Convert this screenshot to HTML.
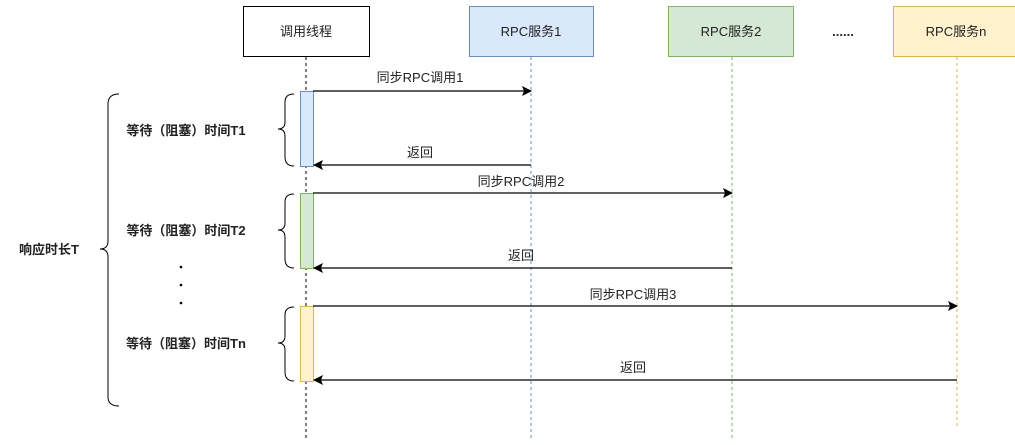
<!DOCTYPE html>
<html><head><meta charset="utf-8"><style>
html,body{margin:0;padding:0;background:#fff;}
text{font-family:"Liberation Sans","Noto Sans CJK SC",sans-serif;font-size:13px;fill:#222;}
.b{font-weight:bold;}
</style></head><body>
<svg width="1015" height="440" viewBox="0 0 1015 440" xmlns="http://www.w3.org/2000/svg">
<defs>
<marker id="ar" markerWidth="10" markerHeight="10" refX="9" refY="5" orient="auto" markerUnits="userSpaceOnUse">
<path d="M0,0 L10,5 L0,10 L2,5 Z" fill="#000"/></marker>
</defs>
<!-- lifelines -->
<line x1="306" y1="57" x2="306" y2="440" stroke="#000" stroke-dasharray="3,3"/>
<line x1="531" y1="57" x2="531" y2="440" stroke="#6c8ebf" stroke-dasharray="3,3"/>
<line x1="732" y1="57" x2="732" y2="440" stroke="#82b366" stroke-dasharray="3,3"/>
<line x1="957" y1="57" x2="957" y2="428" stroke="#d6b656" stroke-dasharray="3,3"/>
<!-- boxes -->
<rect x="243.5" y="6.5" width="126" height="50" fill="#fff" stroke="#000"/>
<text x="306" y="36" text-anchor="middle">调用线程</text>
<rect x="469.5" y="6.5" width="124" height="50" fill="#dae8fc" stroke="#6c8ebf"/>
<text x="531" y="36" text-anchor="middle">RPC服务1</text>
<rect x="668.5" y="6.5" width="125" height="50" fill="#d5e8d4" stroke="#82b366"/>
<text x="731" y="36" text-anchor="middle">RPC服务2</text>
<rect x="893.5" y="6.5" width="125" height="50" fill="#fff2cc" stroke="#d6b656"/>
<text x="956" y="36" text-anchor="middle">RPC服务n</text>
<text x="843" y="36" text-anchor="middle" class="b">......</text>
<!-- activations -->
<rect x="300.5" y="91.5" width="13" height="75" fill="#dae8fc" stroke="#6c8ebf"/>
<rect x="300.5" y="193.5" width="13" height="75" fill="#d5e8d4" stroke="#82b366"/>
<rect x="300.5" y="306.5" width="13" height="75" fill="#fff2cc" stroke="#d6b656"/>
<!-- arrows -->
<g stroke="#000" stroke-width="1.2" marker-end="url(#ar)">
<line x1="313" y1="91" x2="531" y2="91"/>
<line x1="531" y1="165" x2="314" y2="165"/>
<line x1="313" y1="193" x2="732" y2="193"/>
<line x1="732" y1="268" x2="314" y2="268"/>
<line x1="313" y1="306" x2="957" y2="306"/>
<line x1="957" y1="380" x2="314" y2="380"/>
</g>
<text x="420" y="82" text-anchor="middle">同步RPC调用1</text>
<text x="420" y="157" text-anchor="middle">返回</text>
<text x="521" y="186" text-anchor="middle">同步RPC调用2</text>
<text x="521" y="260" text-anchor="middle">返回</text>
<text x="633" y="299" text-anchor="middle">同步RPC调用3</text>
<text x="633" y="372" text-anchor="middle">返回</text>
<!-- small braces -->
<g fill="none" stroke="#000" stroke-width="1">
<path d="M294,94 Q285,94 285,102 L285,122 Q285,129 278,129 Q285,129 285,136 L285,157 Q285,166 294,166"/>
<path d="M294,194 Q285,194 285,202 L285,223 Q285,230 278,230 Q285,230 285,237 L285,259 Q285,268 294,268"/>
<path d="M294,307 Q285,307 285,315 L285,336 Q285,343 278,343 Q285,343 285,350 L285,372 Q285,381 294,381"/>
<path d="M119,94 Q108,94 108,104 L108,241 Q108,249 100,249 Q108,249 108,257 L108,397 Q108,406 119,406"/>
</g>
<text x="186" y="135" text-anchor="middle" class="b">等待（阻塞）时间T1</text>
<text x="186" y="235" text-anchor="middle" class="b">等待（阻塞）时间T2</text>
<text x="186" y="348" text-anchor="middle" class="b">等待（阻塞）时间Tn</text>
<text x="49" y="254" text-anchor="middle" class="b">响应时长T</text>
<circle cx="181" cy="267" r="1.3" fill="#000"/>
<circle cx="181" cy="285" r="1.3" fill="#000"/>
<circle cx="181" cy="303" r="1.3" fill="#000"/>
</svg>
</body></html>
